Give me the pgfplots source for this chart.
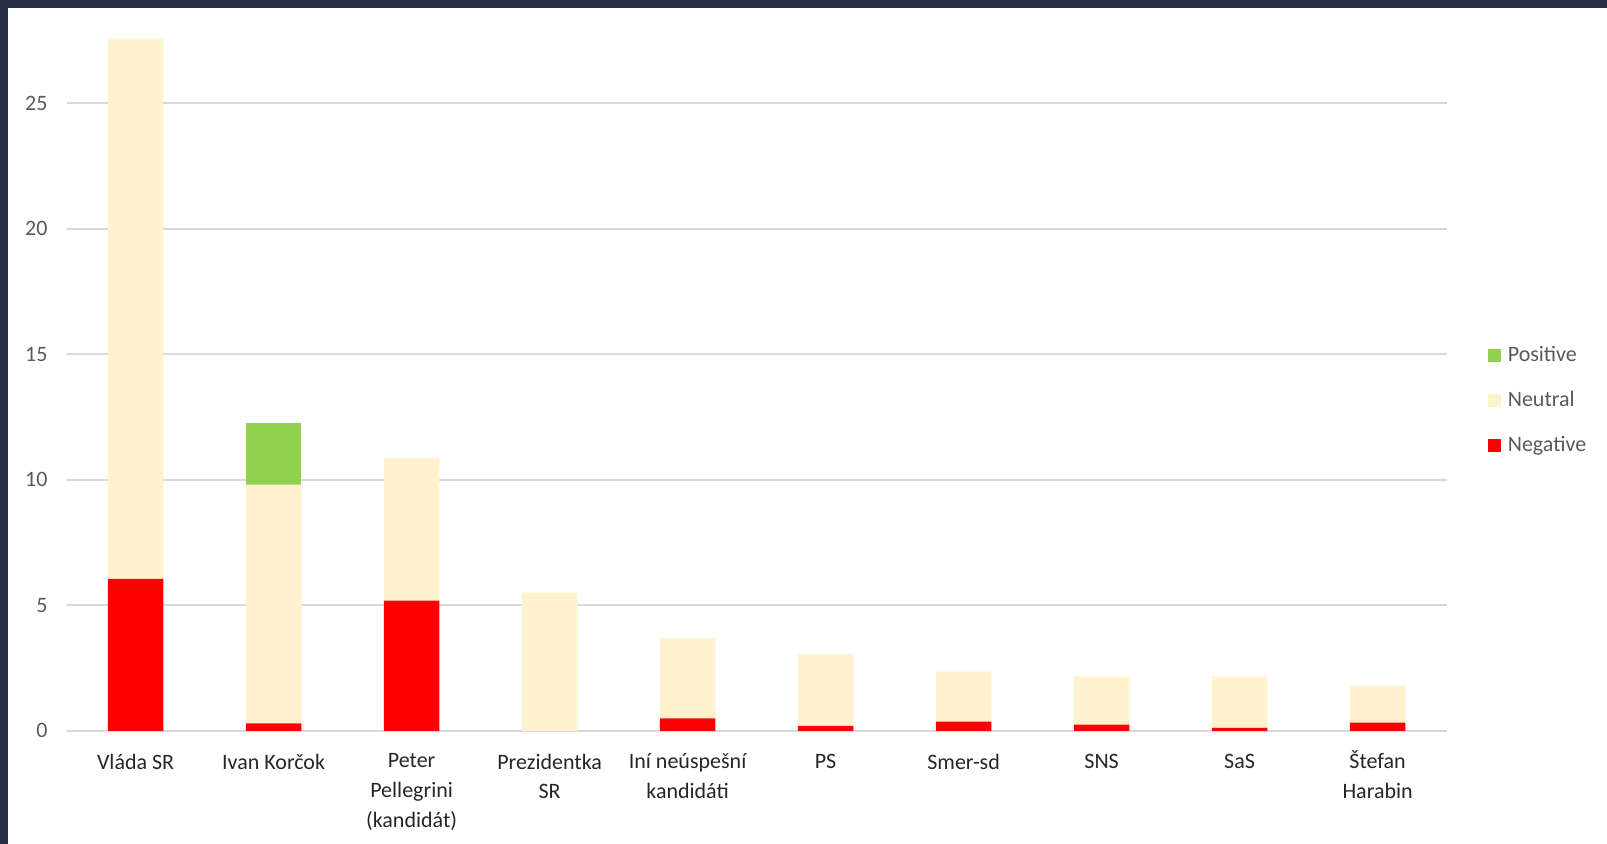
\documentclass[border=0pt]{standalone}
\usepackage{pgfplots}
\pgfplotsset{compat=1.18}
\usepackage{fontspec}
\setmainfont{Carlito}

\definecolor{negcol}{HTML}{FF0000}
\definecolor{neucol}{HTML}{FFF2CC}
\definecolor{poscol}{HTML}{92D050}
\definecolor{gridcol}{HTML}{D9D9D9}
\definecolor{framecol}{HTML}{262F45}
\definecolor{labelcol}{HTML}{595959}

\begin{document}
\begin{tikzpicture}
% page is 1607 x 844 px at 0.5pt per px
\path[use as bounding box] (0,0) rectangle (803.5pt,422pt);
\fill[framecol] (0,418pt) rectangle (803.5pt,422pt);
\fill[framecol] (0,0) rectangle (4pt,422pt);

\begin{axis}[
    at={(33.3pt,56.6pt)}, anchor=south west,
    scale only axis,
    width=690pt, height=351.3pt,
    ybar stacked, bar width=27.7pt,
    xmin=-0.5, xmax=9.5,
    ymin=0, ymax=28,
    xtick=data,
    xticklabels={{Vláda SR\\}, {Ivan Korčok\\}, {Peter\\Pellegrini\\(kandidát)}, {Prezidentka\\SR},
        {Iní neúspešní\\kandidáti}, {PS\\}, {Smer-sd\\}, {SNS\\}, {SaS\\},
        {\smash{Š}tefan\\Harabin}},
    ytick={0,5,...,25},
    axis line style={draw=none},
    tick style={draw=none},
    ymajorgrids,
    major grid style={color=gridcol, line width=1pt},
    /pgf/number format/assume math mode=true,
    tick label style={font=\fontsize{11}{14.9}\selectfont},
    xticklabel style={align=center, text=black!85, yshift=-8pt,
        execute at begin node={\rule{0pt}{11pt}}},
    yticklabel style={text=labelcol, xshift=-6pt},
    legend style={draw=none, fill=none, at={(1.030,0.4699)}, anchor=west,
        font=\fontsize{11}{13}\selectfont, text=labelcol,
        row sep=9.3pt, inner sep=0pt,
        /tikz/every odd column/.append style={column sep=1.2pt}},
    legend cell align=left,
    reverse legend,
    legend image code/.code={\fill[#1] (1.5pt,-3.3pt) rectangle (8pt,3.3pt);},
]
\addplot[fill=negcol, draw=none] coordinates {
(0,6.05) (1,0.30) (2,5.19) (3,0) (4,0.49) (5,0.20) (6,0.37) (7,0.25) (8,0.12) (9,0.33)};
\addlegendentry{Negative}
\addplot[fill=neucol, draw=none] coordinates {
(0,21.52) (1,9.51) (2,5.68) (3,5.51) (4,3.19) (5,2.86) (6,2.00) (7,1.92) (8,2.05) (9,1.47)};
\addlegendentry{Neutral}
\addplot[fill=poscol, draw=none] coordinates {
(0,0) (1,2.45) (2,0) (3,0) (4,0) (5,0) (6,0) (7,0) (8,0) (9,0)};
\addlegendentry{Positive}
\end{axis}
\end{tikzpicture}
\end{document}
